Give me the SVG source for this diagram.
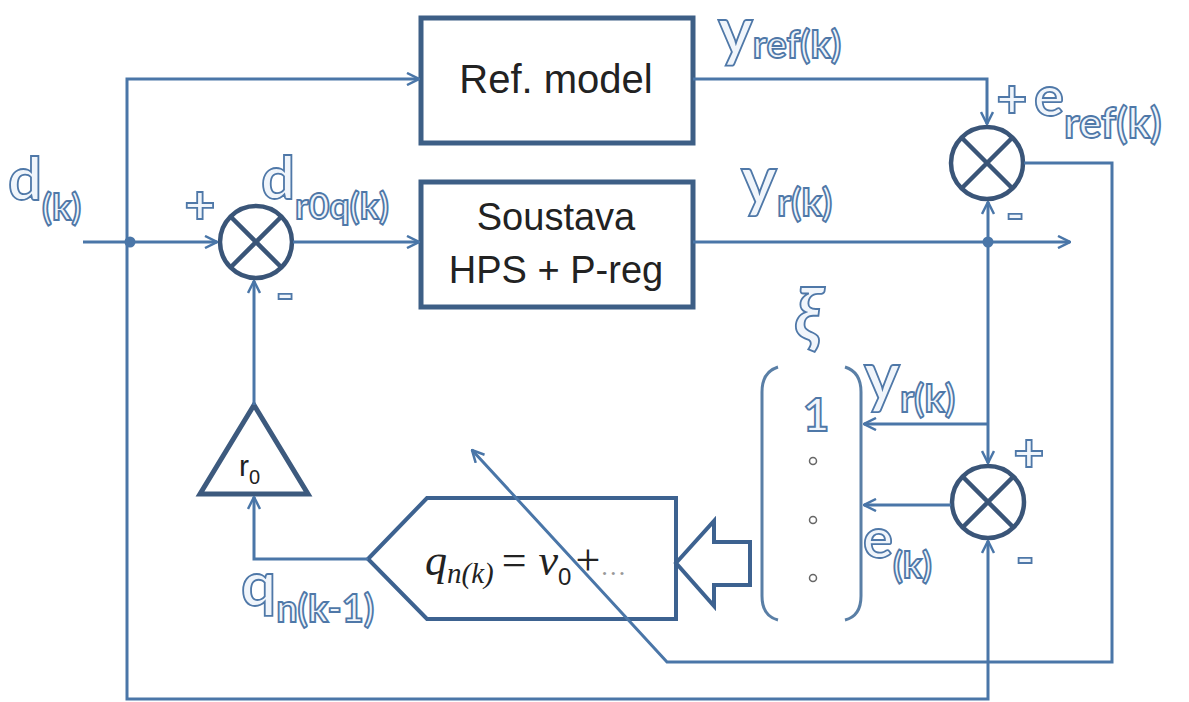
<svg xmlns="http://www.w3.org/2000/svg" width="1189" height="702" viewBox="0 0 1189 702">
<defs>
<style>
.ln{fill:none;stroke:#4a76a8;stroke-width:3;stroke-linejoin:miter}
.box{fill:#fff;stroke:#3d5f86;stroke-width:5}
.sum{fill:#fff;stroke:#3a5578;stroke-width:4.5}
.sumx{stroke:#3a5578;stroke-width:4.5}
.blk{font-family:"Liberation Sans",Arial,sans-serif;fill:#222;text-anchor:middle}
.lab{font-family:Lato,"Open Sans",sans-serif;font-weight:700;fill:#f0f5fb;stroke:#4f78a8;stroke-width:1.8}
.math{font-family:"Liberation Serif","DejaVu Serif",serif;fill:#222}
</style>
<marker id="ar" viewBox="0 0 14 14" refX="13" refY="7" markerWidth="14" markerHeight="14" markerUnits="userSpaceOnUse" orient="auto">
<path d="M1,1 L13,7 L1,13" fill="none" stroke="#4a76a8" stroke-width="2.5"/>
</marker>
</defs>
<rect width="1189" height="702" fill="#fff"/>

<g id="ref-model">
<rect class="box" x="421" y="18" width="272" height="125"/>
<text class="blk" x="556" y="93" font-size="40">Ref. model</text>
</g>

<g id="soustava">
<rect class="box" x="421" y="182" width="272" height="125"/>
<text class="blk" x="556" y="230" font-size="38">Soustava</text>
<text class="blk" x="556" y="283" font-size="38">HPS + P-reg</text>
</g>

<g id="sum1">
<circle class="sum" cx="256" cy="242" r="36"/>
<path class="sumx" d="M230,216 L282,268 M282,216 L230,268"/>
</g>

<g id="sum2">
<circle class="sum" cx="987" cy="163" r="36"/>
<path class="sumx" d="M961,137 L1013,189 M1013,137 L961,189"/>
</g>

<g id="sum3">
<circle class="sum" cx="988" cy="502" r="36"/>
<path class="sumx" d="M962,476 L1014,528 M1014,476 L962,528"/>
</g>

<g id="gain-r0">
<path d="M254,405 L200,494 L308,494 Z" fill="#fff" stroke="#3d5a7e" stroke-width="5" stroke-linejoin="miter"/>
<text x="239" y="476" font-family="'Liberation Sans',Arial,sans-serif" font-size="30" fill="#222">r<tspan font-size="20" dy="8">0</tspan></text>
</g>

<g id="law">
<path d="M368,559 L427,498 L676,498 L676,619 L427,619 Z" fill="#fff" stroke="#3d6290" stroke-width="4"/>
<text class="math" x="425" y="575" font-size="44" font-style="italic">q<tspan font-size="29" dy="8">n(k)</tspan><tspan font-style="normal" font-size="44" dy="-8" dx="8">=</tspan><tspan dx="12">v</tspan><tspan font-style="normal" font-family="'Liberation Sans',Arial,sans-serif" font-size="24" dy="10">0</tspan><tspan font-style="normal" dy="-10" dx="4">+</tspan><tspan font-style="normal" font-size="26" fill="#999">…</tspan></text>
</g>

<g id="block-arrow">
<path d="M676,563 L714,521 L714,542 L750,542 L750,585 L714,585 L714,606 Z" fill="#fff" stroke="#3d6290" stroke-width="4" stroke-linejoin="miter"/>
</g>

<g id="vector-xi">
<path d="M778,367 Q762,372 762,392 L762,596 Q762,616 778,620" fill="none" stroke="#5a7fa6" stroke-width="3"/>
<path d="M845,367 Q861,372 861,392 L861,596 Q861,616 845,620" fill="none" stroke="#5a7fa6" stroke-width="3"/>
<text class="lab" x="816" y="431" font-size="46" text-anchor="middle">1</text>
<circle cx="813" cy="461" r="3.5" fill="#fff" stroke="#666" stroke-width="1.5"/>
<circle cx="813" cy="520" r="3.5" fill="#fff" stroke="#666" stroke-width="1.5"/>
<circle cx="813" cy="578" r="3.5" fill="#fff" stroke="#666" stroke-width="1.5"/>
</g>

<g id="connectors">
<path class="ln" d="M83,242 L217,242" marker-end="url(#ar)"/>
<path class="ln" d="M127,242 L127,79 L419,79" marker-end="url(#ar)"/>
<path class="ln" d="M127,242 L127,699 L988,699 L988,541" marker-end="url(#ar)"/>
<path class="ln" d="M293,242 L419,242" marker-end="url(#ar)"/>
<path class="ln" d="M254,405 L254,281" marker-end="url(#ar)"/>
<path class="ln" d="M368,559 L254,559 L254,497" marker-end="url(#ar)"/>
<path class="ln" d="M693,79 L987,79 L987,124" marker-end="url(#ar)"/>
<path class="ln" d="M693,242 L1070,242" marker-end="url(#ar)"/>
<path class="ln" d="M988,242 L988,202" marker-end="url(#ar)"/>
<path class="ln" d="M988,242 L988,463" marker-end="url(#ar)"/>
<path class="ln" d="M988,424 L864,424" marker-end="url(#ar)"/>
<path class="ln" d="M951,505 L864,505" marker-end="url(#ar)"/>
<path class="ln" d="M1024,163 L1112,163 L1112,662 L667,662 L472,450" marker-end="url(#ar)"/>
<circle cx="130" cy="242" r="5.5" fill="#4a76a8"/>
<circle cx="988" cy="242" r="5.5" fill="#4a76a8"/>
</g>

<g id="labels">
<text class="lab" x="8" y="200" font-size="60">d<tspan font-size="36" dy="20">(k)</tspan></text>
<text class="lab" x="200" y="224" font-size="54" text-anchor="middle">+</text>
<text class="lab" x="285" y="312" font-size="50" text-anchor="middle">-</text>
<text class="lab" x="261" y="199" font-size="60">d<tspan font-size="36" dy="20">r0q(k)</tspan></text>
<text class="lab" x="718" y="54" font-size="66">y<tspan font-size="38" dy="4">ref(k)</tspan></text>
<text class="lab" x="1012" y="118" font-size="54" text-anchor="middle">+</text>
<text class="lab" x="1034" y="116" font-size="56">e<tspan font-size="42" dy="22">ref(k)</tspan></text>
<text class="lab" x="741" y="204" font-size="68">y<tspan font-size="38" dy="12">r(k)</tspan></text>
<text class="lab" x="1015" y="232" font-size="50" text-anchor="middle">-</text>
<text class="lab" x="808" y="340" font-size="72" font-style="italic" text-anchor="middle">ξ</text>
<text class="lab" x="864" y="400" font-size="68">y<tspan font-size="38" dy="12">r(k)</tspan></text>
<text class="lab" x="1029" y="472" font-size="54" text-anchor="middle">+</text>
<text class="lab" x="1025" y="576" font-size="50" text-anchor="middle">-</text>
<text class="lab" x="863" y="558" font-size="56">e<tspan font-size="36" dy="20">(k)</tspan></text>
<text class="lab" x="241" y="606" font-size="62">q<tspan font-size="38" dy="16">n(k-1)</tspan></text>
</g>
</svg>
